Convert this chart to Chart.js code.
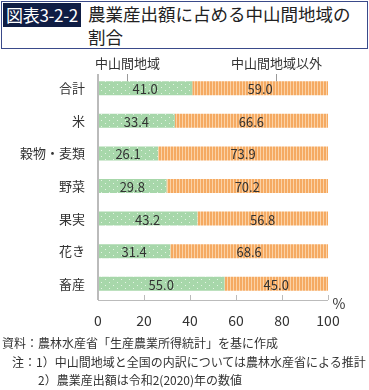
<!DOCTYPE html>
<html>
<head>
<meta charset="utf-8">
<script src="https://cdn.jsdelivr.net/npm/chart.js@4"></script>
<style>
  body { margin: 0; width: 369px; height: 390px; background: #fff; font-family: "Noto Sans CJK JP", sans-serif; color: #333; position: relative; overflow: hidden; }
  .title { position: absolute; left: 1px; top: 1px; width: 365px; height: 46px; border: 1px solid #3a4a8a; }
  .tag { position: absolute; left: 1px; top: 1px; width: 78px; height: 24px; background: #0f1d44; color: #fff; font-size: 17px; line-height: 24px; text-align: center; letter-spacing: -0.3px; }
  .head { position: absolute; left: 86px; top: 0px; font-size: 17.5px; line-height: 23px; color: #222; }
  .chart { position: absolute; left: 0; top: 50px; width: 369px; height: 290px; }
  .note { position: absolute; font-size: 12px; line-height: 16px; color: #333; white-space: nowrap; }
</style>
</head>
<body>
<div class="title">
  <div class="tag">図表3-2-2</div>
  <div class="head">農業産出額に占める中山間地域の<br>割合</div>
</div>
<div class="chart"><canvas id="c" width="369" height="290"></canvas></div>
<div class="note" style="left:2px;top:335px">資料：農林水産省「生産農業所得統計」を基に作成</div>
<div class="note" style="left:12px;top:354px">注：1）中山間地域と全国の内訳については農林水産省による推計</div>
<div class="note" style="left:38px;top:372px">2）農業産出額は令和2(2020)年の数値</div>
<script>
const categories = ['合計', '米', '穀物・麦類', '野菜', '果実', '花き', '畜産'];
const chusankan = [41.0, 33.4, 26.1, 29.8, 43.2, 31.4, 55.0];
const igai = [59.0, 66.6, 73.9, 70.2, 56.8, 68.6, 45.0];
const seriesNames = ['中山間地域', '中山間地域以外'];
const xTicks = [0, 20, 40, 60, 80, 100];

function dotPattern() {
  const p = document.createElement('canvas');
  p.width = 8; p.height = 6;
  const g = p.getContext('2d');
  g.fillStyle = '#a7d7aa';
  g.fillRect(0, 0, 8, 6);
  g.fillStyle = '#e4f3e4';
  g.fillRect(1, 1, 1, 1);
  g.fillRect(5, 4, 1, 1);
  return g.createPattern(p, 'repeat');
}
function stripePattern() {
  const p = document.createElement('canvas');
  p.width = 3; p.height = 1;
  const g = p.getContext('2d');
  g.fillStyle = '#f5aa62';
  g.fillRect(0, 0, 3, 1);
  g.fillStyle = '#fbd2a6';
  g.fillRect(2, 0, 1, 1);
  return g.createPattern(p, 'repeat');
}

const extras = {
  id: 'extras',
  afterDatasetsDraw(chart) {
    const ctx = chart.ctx;
    const x = chart.scales.x;
    const area = chart.chartArea;
    ctx.save();
    // value labels
    ctx.font = '13px "Noto Sans CJK JP", sans-serif';
    ctx.fillStyle = '#333';
    ctx.textAlign = 'center';
    ctx.textBaseline = 'middle';
    chart.data.datasets.forEach((ds, i) => {
      chart.getDatasetMeta(i).data.forEach((bar, j) => {
        const left = Math.min(bar.x, bar.base), right = Math.max(bar.x, bar.base);
        ctx.fillText(ds.data[j].toFixed(1), (left + right) / 2, bar.y + 1);
      });
    });
    // axis lines
    ctx.strokeStyle = '#bbb';
    ctx.lineWidth = 2;
    ctx.beginPath();
    ctx.moveTo(area.left, area.top + 2);
    ctx.lineTo(area.left, area.bottom);
    ctx.stroke();
    ctx.lineWidth = 1;
    ctx.beginPath();
    ctx.moveTo(area.left, area.bottom + 0.5);
    ctx.lineTo(area.right, area.bottom + 0.5);
    xTicks.slice(1).forEach(v => {
      const px = Math.round(x.getPixelForValue(v)) + 0.5;
      ctx.moveTo(px, area.bottom);
      ctx.lineTo(px, area.bottom - 5);
    });
    ctx.stroke();
    // series labels with leader lines
    const firstBar = chart.getDatasetMeta(0).data[0];
    const barTop = firstBar.y - firstBar.height / 2;
    const labelPos = [12.6, 77.4];
    ctx.font = '13px "Noto Sans CJK JP", sans-serif';
    ctx.fillStyle = '#333';
    ctx.strokeStyle = '#999';
    labelPos.forEach((v, i) => {
      const px = Math.round(x.getPixelForValue(v)) + 0.5;
      ctx.fillText(seriesNames[i], px, area.top - 9);
      ctx.beginPath();
      ctx.moveTo(px, area.top + 2);
      ctx.lineTo(px, barTop);
      ctx.stroke();
    });
    // percent sign
    ctx.font = '14px "Noto Sans CJK JP", sans-serif';
    ctx.fillText('%', area.right + 11, area.bottom + 4);
    ctx.restore();
  }
};

new Chart(document.getElementById('c'), {
  type: 'bar',
  data: {
    labels: categories,
    datasets: [
      { label: seriesNames[0], data: chusankan, backgroundColor: dotPattern() },
      { label: seriesNames[1], data: igai, backgroundColor: stripePattern() }
    ]
  },
  options: {
    indexAxis: 'y',
    responsive: false,
    animation: false,
    events: [],
    layout: { padding: { top: 22, right: 41, bottom: 0, left: 0 } },
    datasets: { bar: { categoryPercentage: 1, barPercentage: 0.43 } },
    plugins: { legend: { display: false }, tooltip: { enabled: false } },
    scales: {
      x: {
        stacked: true,
        min: 0, max: 100,
        afterBuildTicks: s => { s.ticks = xTicks.map(v => ({ value: v })); },
        afterFit: s => { s.height = 40; },
        grid: { display: false, drawTicks: false },
        border: { display: false },
        ticks: { padding: 12, color: '#333', font: { size: 14, family: '"Noto Sans CJK JP", sans-serif' } }
      },
      y: {
        stacked: true,
        afterFit: s => { s.width = 98; },
        grid: { display: false, drawTicks: false },
        border: { display: false },
        ticks: { padding: 13, color: '#333', font: { size: 13, family: '"Noto Sans CJK JP", sans-serif' } }
      }
    }
  },
  plugins: [extras]
});
</script>
</body>
</html>
